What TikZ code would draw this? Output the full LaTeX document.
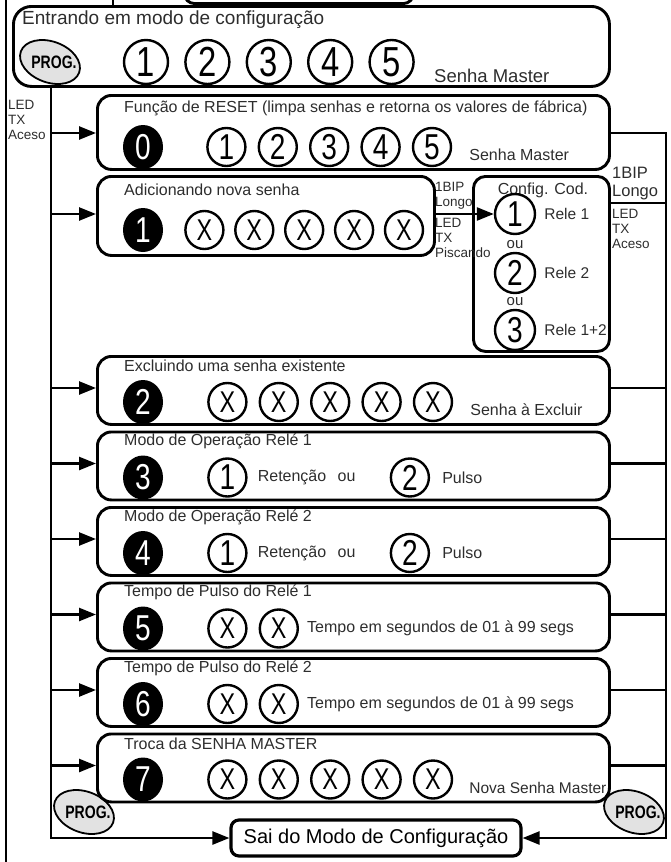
\documentclass[tikz,border=0pt]{standalone}
\usepackage{fontspec}
\setmainfont{Liberation Sans}
\newfontfamily\digitfont{Liberation Sans}[FakeStretch=0.78]
\usepackage{tikz}
\usetikzlibrary{shapes.geometric, arrows.meta, positioning}
\definecolor{progfill}{RGB}{226,226,226}
\definecolor{textgray}{RGB}{45,45,45}
\tikzset{
    panel/.style={
        rectangle,
        draw=black,
        line width=2.9pt,
        rounded corners=14pt,
        anchor=north west,
        inner sep=0pt
    },
    stepbox/.style={
        panel,
        minimum width=512pt,
        minimum height=68pt
    },
    title/.style={
        anchor=west,
        inner sep=0pt,
        text=textgray,
        font=\fontsize{16}{19}\selectfont
    },
    note/.style={
        inner sep=0pt,
        text=textgray,
        font=\fontsize{16}{19}\selectfont
    },
    small/.style={
        inner sep=0pt,
        text=textgray,
        align=left,
        font=\fontsize{13.5}{15}\selectfont
    },
    key/.style={
        circle,
        draw=black,
        line width=2.4pt,
        minimum size=38pt,
        inner sep=0pt,
        font=\digitfont\fontsize{36}{36}\selectfont
    },
    bigkey/.style={
        key,
        minimum size=44pt,
        font=\digitfont\fontsize{42}{42}\selectfont
    },
    xkey/.style={
        key,
        font=\digitfont\fontsize{30}{30}\selectfont
    },
    menukey/.style={
        ellipse,
        fill=black,
        minimum width=40pt,
        minimum height=44pt,
        inner sep=0pt,
        text=white,
        font=\digitfont\fontsize{36}{36}\selectfont
    },
    progkey/.style={
        ellipse,
        draw=black,
        line width=1.8pt,
        fill=progfill,
        minimum width=62pt,
        minimum height=41pt,
        inner sep=0pt,
        rotate=-20
    },
    progtext/.style={
        inner sep=0pt,
        font=\digitfont\bfseries\fontsize{18}{18}\selectfont
    },
    connection/.style={
        draw=black,
        line width=2.5pt
    },
    feed/.style={
        connection,
        -{Triangle[length=17pt, width=13pt]}
    }
}

\begin{document}
\begin{tikzpicture}[x=1pt, y=-1pt]
\clip (0,0) rectangle (670,862);
% part of the diagram above
\node[panel, anchor=south west, minimum width=229pt, minimum height=40pt, rounded corners=10pt] (above) at (183,5) {};
\coordinate (outer) at (6,-20);
\coordinate (outerend) at (6,880);
\coordinate (upper) at (113,-20);
\draw[connection] (outer) -- (outerend);

% Entering configuration mode
\node[panel, minimum width=596pt, minimum height=80pt, rounded corners=18pt] (enter) at (12,5) {};
\draw[connection] (upper) -- (upper |- enter.north);
\node[title, font=\fontsize{19}{22}\selectfont] (entertitle) at (22,20) {Entrando em modo de configuração};
\node[progkey] (prog0) at (50,62) {};
\node[progtext] at ([xshift=4pt]prog0) {PROG.};
\node[bigkey] (k1) at (146,62) {1};
\node[bigkey, right=15pt of k1] (k2) {2};
\node[bigkey, right=15pt of k2] (k3) {3};
\node[bigkey, right=15pt of k3] (k4) {4};
\node[bigkey, right=15pt of k4] (k5) {5};
\node[note, anchor=west, font=\fontsize{18.5}{21}\selectfont] at (434,76) {Senha Master};
\node[small, anchor=south west] at (8,140) {LED\\TX\\Aceso};

% PROG keys for leaving
\node[progkey] (prog1) at (84,812) {};
\node[progtext] at ([xshift=4pt]prog1) {PROG.};
\node[progkey] (prog2) at (634,812) {};
\node[progtext] at ([xshift=4pt]prog2) {PROG.};

% Menu 0: reset
\node[stepbox, minimum height=74pt] (r0) at (96,94) {};
\node[title] at ([xshift=28pt, yshift=-14pt]r0.north west) {Função de RESET (limpa senhas e retorna os valores de fábrica)};
\node[menukey] (m0) at ([xshift=47pt, yshift=-53pt]r0.north west) {0};
\node[key, right=43pt of m0] (c01) {1};
\node[key, right=11pt of c01] (c02) {2};
\node[key, right=11pt of c02] (c03) {3};
\node[key, right=11pt of c03] (c04) {4};
\node[key, right=11pt of c04] (c05) {5};
\node[note, right=17pt of c05, yshift=-8pt] {Senha Master};

% Menu 1: new password
\node[panel, minimum width=337pt, minimum height=79pt] (r1) at (96,175) {};
\node[title] at ([xshift=28pt, yshift=-15pt]r1.north west) {Adicionando nova senha};
\node[menukey] (m1) at ([xshift=47pt, yshift=-55pt]r1.north west) {1};
\node[xkey, right=21pt of m1] (x11) {X};
\node[xkey, right=9.5pt of x11] (x12) {X};
\node[xkey, right=9.5pt of x12] (x13) {X};
\node[xkey, right=9.5pt of x13] (x14) {X};
\node[xkey, right=9.5pt of x14] (x15) {X};

% code configuration
\node[panel, minimum width=136pt, minimum height=175pt, rounded corners=12pt] (cfg) at (472,175) {};
\node[note] at (543,190) {Config. Cod.};
\node[key, minimum size=40pt] (cc1) at (515,214) {1};
\node[note, font=\fontsize{15}{17}\selectfont] (ou1) at (515,245) {ou};
\node[key, minimum size=40pt] (cc2) at (515,273) {2};
\node[note, font=\fontsize{15}{17}\selectfont] (ou2) at (515,302) {ou};
\node[key, minimum size=40pt] (cc3) at (515,330) {3};
\node[note, anchor=west, right=8pt of cc1, font=\fontsize{15.5}{17}\selectfont] {Rele 1};
\node[note, anchor=west, right=8pt of cc2, font=\fontsize{15.5}{17}\selectfont] {Rele 2};
\node[note, anchor=west, right=8pt of cc3, font=\fontsize{15.5}{17}\selectfont] {Rele 1+2};
\node[small, anchor=south west] at (435,209) {1BIP\\Longo};
\node[small, anchor=north west] at (435,218) {LED\\TX\\Piscando};
\node[small, anchor=south west, font=\fontsize{16.5}{18}\selectfont] at (612,200) {1BIP\\Longo};
\node[small, anchor=north west] at (612,209) {LED\\TX\\Aceso};

% Menu 2: delete password
\node[stepbox] (r2) at (96,355) {};
\node[title] at ([xshift=28pt, yshift=-11pt]r2.north west) {Excluindo uma senha existente};
\node[menukey] (m2) at ([xshift=47pt, yshift=-47pt]r2.north west) {2};
\node[xkey, right=44pt of m2] (x21) {X};
\node[xkey, right=11pt of x21] (x22) {X};
\node[xkey, right=11pt of x22] (x23) {X};
\node[xkey, right=11pt of x23] (x24) {X};
\node[xkey, right=11pt of x24] (x25) {X};
\node[note, right=17pt of x25, yshift=-8pt] {Senha à Excluir};

% Menu 3: relay 1 mode
\node[stepbox] (r3) at (96,430.5) {};
\node[title] at ([xshift=28pt, yshift=-11pt]r3.north west) {Modo de Operação Relé 1};
\node[menukey] (m3) at ([xshift=47pt, yshift=-47pt]r3.north west) {3};
\node[key, right=44pt of m3] (c31) {1};
\node[note, right=10pt of c31] (ret3) {Retenção};
\node[note, right=11pt of ret3] (ou3) {ou};
\node[key, right=34pt of ou3] (c32) {2};
\node[note, right=12pt of c32] {Pulso};

% Menu 4: relay 2 mode
\node[stepbox] (r4) at (96,506) {};
\node[title] at ([xshift=28pt, yshift=-11pt]r4.north west) {Modo de Operação Relé 2};
\node[menukey] (m4) at ([xshift=47pt, yshift=-47pt]r4.north west) {4};
\node[key, right=44pt of m4] (c41) {1};
\node[note, right=10pt of c41] (ret4) {Retenção};
\node[note, right=11pt of ret4] (ou4) {ou};
\node[key, right=34pt of ou4] (c42) {2};
\node[note, right=12pt of c42] {Pulso};

% Menu 5: relay 1 pulse time
\node[stepbox] (r5) at (96,581.5) {};
\node[title] at ([xshift=28pt, yshift=-11pt]r5.north west) {Tempo de Pulso do Relé 1};
\node[menukey] (m5) at ([xshift=47pt, yshift=-47pt]r5.north west) {5};
\node[xkey, right=44pt of m5] (x51) {X};
\node[xkey, right=11pt of x51] (x52) {X};
\node[note, right=8pt of x52] {Tempo em segundos de 01 à 99 segs};

% Menu 6: relay 2 pulse time
\node[stepbox] (r6) at (96,657) {};
\node[title] at ([xshift=28pt, yshift=-11pt]r6.north west) {Tempo de Pulso do Relé 2};
\node[menukey] (m6) at ([xshift=47pt, yshift=-47pt]r6.north west) {6};
\node[xkey, right=44pt of m6] (x61) {X};
\node[xkey, right=11pt of x61] (x62) {X};
\node[note, right=8pt of x62] {Tempo em segundos de 01 à 99 segs};

% Menu 7: new master password
\node[stepbox] (r7) at (96,732.5) {};
\node[title] at ([xshift=28pt, yshift=-11pt]r7.north west) {Troca da SENHA MASTER};
\node[menukey] (m7) at ([xshift=47pt, yshift=-47pt]r7.north west) {7};
\node[xkey, right=44pt of m7] (x71) {X};
\node[xkey, right=11pt of x71] (x72) {X};
\node[xkey, right=11pt of x72] (x73) {X};
\node[xkey, right=11pt of x73] (x74) {X};
\node[xkey, right=11pt of x74] (x75) {X};
\node[note, right=16pt of x75, yshift=-8pt, font=\fontsize{15.5}{18}\selectfont] {Nova Senha Master};

% Leaving
\node[panel, anchor=center, line width=3.2pt, rounded corners=8pt, minimum width=290pt, minimum height=36pt, font=\fontsize{20}{22}\selectfont] (sai) at (376,838) {Sai do Modo de Configuração};

% buses
\coordinate (in0) at (51,133);
\coordinate (in1) at (51,214);
\coordinate (in2) at (51,388);
\coordinate (in3) at (51,463.5);
\coordinate (in4) at (51,539);
\coordinate (in5) at (51,614.5);
\coordinate (in6) at (51,690);
\coordinate (in7) at (51,765.5);
\coordinate (rbus) at (666,133);
\coordinate (cfgout) at (608,203);

\draw[feed] (enter.south -| in0) |- (sai.west);
\draw[feed] (r0.east |- in0) -- (rbus) |- (sai.east);
\draw[feed] (in0) -- (in0 -| r0.west);
\draw[feed] (in1) -- (in1 -| r1.west);
\draw[feed] (in2) -- (in2 -| r2.west);
\draw[feed] (in3) -- (in3 -| r3.west);
\draw[feed] (in4) -- (in4 -| r4.west);
\draw[feed] (in5) -- (in5 -| r5.west);
\draw[feed] (in6) -- (in6 -| r6.west);
\draw[feed] (in7) -- (in7 -| r7.west);
\draw[feed] (r1.east |- cc1) -- (cc1.west);
\draw[connection] (cfgout) -- (cfgout -| rbus);
\draw[connection] (r2.east |- in2) -- (in2 -| rbus);
\draw[connection] (r3.east |- in3) -- (in3 -| rbus);
\draw[connection] (r4.east |- in4) -- (in4 -| rbus);
\draw[connection] (r5.east |- in5) -- (in5 -| rbus);
\draw[connection] (r6.east |- in6) -- (in6 -| rbus);
\draw[connection] (r7.east |- in7) -- (in7 -| rbus);
\end{tikzpicture}
\end{document}
